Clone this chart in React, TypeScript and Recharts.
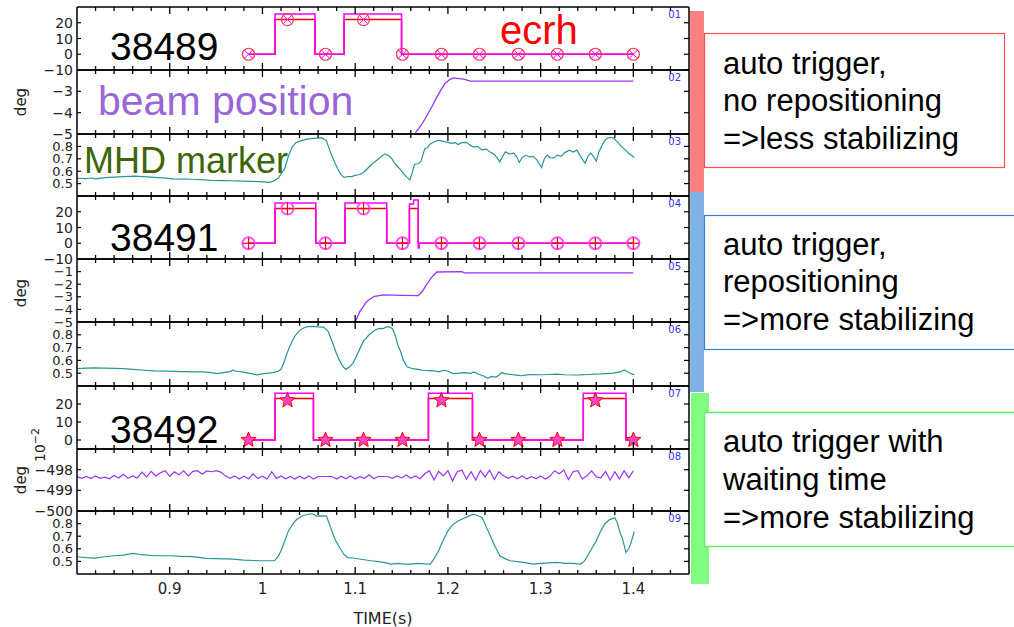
import React from 'react';
import { ComposedChart, Line, XAxis, YAxis } from 'recharts';

// time axis (s)
const T_DOMAIN: [number, number] = [0.8, 1.46];
const T_TICKS = Array.from({ length: 34 }, (_, i) => Math.round((0.8 + 0.02 * i) * 100) / 100);

// ecrh marker times (same for all shots)
const markerTimes = [0.985, 1.027, 1.068, 1.109, 1.151, 1.193, 1.234, 1.276, 1.318, 1.359, 1.4];

// shot 38489
const ecrh38489 = [[0.985, 0], [1.0136, 25.5], [1.0567, 0], [1.088, 25.5], [1.15, 0], [1.4, 0]];
const ecrhRef38489 = [[0.985, 0], [1.0136, 22], [1.0567, 0], [1.088, 22], [1.15, 0], [1.4, 0]];
const marks38489 = [0, 22, 0, 22, 0, 0, 0, 0, 0, 0, 0];
const beam38489 = [
  [1.165, -4.94], [1.171, -4.6], [1.177, -4.17], [1.183, -3.7], [1.188, -3.27], [1.193, -2.9],
  [1.197, -2.63], [1.202, -2.45], [1.206, -2.37], [1.212, -2.4], [1.217, -2.43], [1.224, -2.52], [1.4, -2.52],
];
const mhd38489 = [
  [0.8, 0.543], [0.81, 0.54], [0.815, 0.545], [0.82, 0.538], [0.83, 0.548], [0.84, 0.552], [0.85, 0.556],
  [0.862, 0.561], [0.872, 0.556], [0.883, 0.55], [0.893, 0.546], [0.904, 0.538], [0.915, 0.536], [0.926, 0.535],
  [0.937, 0.53], [0.947, 0.525], [0.958, 0.524], [0.968, 0.523], [0.979, 0.52], [0.99, 0.518], [1.0, 0.514],
  [1.007, 0.51], [1.012, 0.52], [1.017, 0.543], [1.021, 0.59], [1.024, 0.62], [1.028, 0.72], [1.032, 0.795],
  [1.036, 0.83], [1.041, 0.845], [1.048, 0.858], [1.054, 0.865], [1.06, 0.866], [1.064, 0.87], [1.069, 0.845],
  [1.072, 0.78], [1.075, 0.72], [1.078, 0.67], [1.081, 0.62], [1.085, 0.57], [1.088, 0.55], [1.092, 0.557],
  [1.096, 0.556], [1.1, 0.566], [1.105, 0.573], [1.109, 0.59], [1.113, 0.62], [1.117, 0.65], [1.122, 0.68],
  [1.127, 0.71], [1.132, 0.74], [1.136, 0.725], [1.139, 0.707], [1.142, 0.67], [1.145, 0.644], [1.149, 0.61],
  [1.152, 0.58], [1.156, 0.55], [1.159, 0.53], [1.162, 0.6], [1.164, 0.656], [1.168, 0.66], [1.171, 0.68],
  [1.175, 0.78], [1.178, 0.79], [1.181, 0.82], [1.185, 0.835], [1.19, 0.85], [1.195, 0.84], [1.2, 0.833],
  [1.204, 0.825], [1.208, 0.83], [1.211, 0.815], [1.215, 0.83], [1.22, 0.833], [1.224, 0.81], [1.228, 0.795],
  [1.232, 0.8], [1.237, 0.77], [1.241, 0.78], [1.245, 0.757], [1.249, 0.74], [1.253, 0.71], [1.256, 0.674],
  [1.259, 0.72], [1.262, 0.757], [1.266, 0.74], [1.271, 0.745], [1.274, 0.72], [1.277, 0.67], [1.28, 0.71],
  [1.284, 0.73], [1.288, 0.715], [1.292, 0.72], [1.296, 0.69], [1.301, 0.63], [1.304, 0.7], [1.307, 0.73],
  [1.31, 0.71], [1.314, 0.707], [1.318, 0.73], [1.322, 0.72], [1.326, 0.75], [1.331, 0.77], [1.335, 0.755],
  [1.339, 0.77], [1.343, 0.72], [1.348, 0.664], [1.351, 0.72], [1.354, 0.745], [1.357, 0.72], [1.36, 0.68],
  [1.363, 0.76], [1.367, 0.82], [1.37, 0.855], [1.373, 0.87], [1.376, 0.872], [1.379, 0.865], [1.383, 0.835],
  [1.386, 0.808], [1.39, 0.78], [1.395, 0.745], [1.401, 0.71],
];

// shot 38491
const ecrh38491 = [
  [0.985, 0], [1.0136, 25.5], [1.0575, 0], [1.089, 25.5], [1.134, 0], [1.1585, 25], [1.163, 27.5],
  [1.168, -3], [1.169, 0], [1.4, 0],
];
const ecrhRef38491 = [[0.985, 0], [1.0136, 22], [1.0575, 0], [1.089, 22], [1.134, 0], [1.1585, 22], [1.168, 0], [1.4, 0]];
const marks38491 = [0, 22, 0, 22, 0, 0, 0, 0, 0, 0, 0];
const beam38491 = [
  [1.1, -5], [1.105, -4.18], [1.1125, -3.37], [1.12, -2.98], [1.13, -2.84], [1.15, -2.88], [1.168, -2.9],
  [1.172, -2.6], [1.177, -2.04], [1.182, -1.5], [1.188, -1.03], [1.215, -1.0], [1.218, -1.1], [1.4, -1.1],
];
const mhd38491 = [
  [0.8, 0.536], [0.81, 0.54], [0.82, 0.542], [0.83, 0.54], [0.84, 0.538], [0.85, 0.535], [0.86, 0.53],
  [0.87, 0.525], [0.883, 0.518], [0.895, 0.516], [0.905, 0.515], [0.915, 0.512], [0.926, 0.51], [0.936, 0.51],
  [0.945, 0.505], [0.951, 0.497], [0.958, 0.505], [0.965, 0.512], [0.968, 0.523], [0.972, 0.515], [0.978, 0.51],
  [0.985, 0.5], [0.994, 0.487], [1.0, 0.495], [1.006, 0.5], [1.011, 0.505], [1.017, 0.515], [1.02, 0.53],
  [1.023, 0.58], [1.026, 0.646], [1.029, 0.7], [1.032, 0.75], [1.036, 0.8], [1.041, 0.84], [1.045, 0.855],
  [1.049, 0.864], [1.055, 0.866], [1.06, 0.862], [1.066, 0.86], [1.071, 0.826], [1.075, 0.75], [1.079, 0.67],
  [1.083, 0.6], [1.087, 0.55], [1.09, 0.53], [1.094, 0.55], [1.098, 0.582], [1.103, 0.66], [1.109, 0.75],
  [1.115, 0.8], [1.122, 0.84], [1.126, 0.85], [1.13, 0.848], [1.133, 0.86], [1.136, 0.864], [1.14, 0.85],
  [1.143, 0.8], [1.146, 0.72], [1.149, 0.67], [1.152, 0.6], [1.156, 0.55], [1.162, 0.535], [1.168, 0.53],
  [1.173, 0.523], [1.18, 0.52], [1.186, 0.518], [1.19, 0.51], [1.196, 0.523], [1.2, 0.515], [1.206, 0.497],
  [1.212, 0.5], [1.218, 0.505], [1.224, 0.498], [1.228, 0.51], [1.234, 0.49], [1.238, 0.48], [1.243, 0.46],
  [1.247, 0.475], [1.252, 0.47], [1.256, 0.49], [1.258, 0.505], [1.262, 0.495], [1.268, 0.49], [1.274, 0.485],
  [1.279, 0.48], [1.285, 0.487], [1.292, 0.49], [1.3, 0.488], [1.309, 0.49], [1.318, 0.492], [1.326, 0.488],
  [1.335, 0.486], [1.343, 0.487], [1.35, 0.49], [1.36, 0.492], [1.369, 0.497], [1.378, 0.5], [1.386, 0.51],
  [1.39, 0.526], [1.395, 0.505], [1.401, 0.487],
];

// shot 38492
const ecrh38492 = [[0.985, 0], [1.0136, 26], [1.055, 0], [1.179, 26], [1.2265, 0], [1.346, 26], [1.392, 0], [1.4, 0]];
const ecrhRef38492 = [[0.985, 0], [1.0136, 23], [1.055, 0], [1.179, 23], [1.2265, 0], [1.346, 23], [1.392, 0], [1.4, 0]];
const marks38492 = [0, 22, 0, 0, 0, 22, 0, 0, 0, 22, 0];
// beam position in 1e-2 deg, sampled every 5 ms from 0.8 s
const beam38492 = [
  -498.35, -498.42, -498.33, -498.43, -498.3, -498.42, -498.36, -498.44, -498.28, -498.4, -498.22, -498.42, -498.3, -498.4,
  -498.12, -498.35, -498.08, -498.3, -498.15, -498.05, -498.32, -498.1, -498.25, -498.06, -498.3, -498.08, -498.05, -498.22,
  -498.06, -498.1, -498.05, -498.12,
  -498.3, -498.42, -498.3, -498.45, -498.32, -498.44, -498.2, -498.43, -498.32, -498.45, -498.1, -498.42, -498.3, -498.44,
  -498.33, -498.45, -498.32, -498.44, -498.3, -498.45, -498.33,
  -498.33, -498.33, -498.33,
  -498.45, -498.32, -498.44, -498.3, -498.45, -498.34, -498.42, -498.25, -498.44, -498.33, -498.33, -498.33, -498.42,
  -498.3, -498.4, -498.26, -498.42, -498.3, -498.44, -498.2,
  -498.05, -498.5, -498.08, -498.3, -498.05, -498.55, -498.1, -498.02, -498.45, -498.1, -498.5, -498.05, -498.35, -498.02,
  -498.48, -498.1, -498.3,
  -498.42, -498.32, -498.44, -498.3, -498.45, -498.33, -498.44, -498.3, -498.45, -498.32,
  -498.05, -498.2, -498.02, -498.48, -498.1, -498.05, -498.45, -498.3, -498.06, -498.35, -498.4, -498.08, -498.5, -498.1,
  -498.45, -498.05, -498.4, -498.05,
];
const mhd38492 = [
  [0.8, 0.537], [0.81, 0.53], [0.819, 0.526], [0.828, 0.535], [0.84, 0.545], [0.85, 0.55], [0.86, 0.563],
  [0.87, 0.553], [0.883, 0.545], [0.9, 0.545], [0.913, 0.54], [0.925, 0.538], [0.939, 0.524], [0.95, 0.522],
  [0.96, 0.52], [0.968, 0.518], [0.98, 0.51], [0.99, 0.507], [0.998, 0.505], [1.005, 0.505], [1.013, 0.505],
  [1.017, 0.54], [1.02, 0.584], [1.024, 0.66], [1.028, 0.742], [1.032, 0.79], [1.037, 0.834], [1.043, 0.86],
  [1.049, 0.874], [1.054, 0.878], [1.058, 0.86], [1.064, 0.862], [1.069, 0.86], [1.073, 0.78], [1.076, 0.72],
  [1.079, 0.663], [1.084, 0.6], [1.088, 0.555], [1.092, 0.53], [1.1, 0.525], [1.108, 0.515], [1.117, 0.505],
  [1.125, 0.498], [1.132, 0.49], [1.139, 0.479], [1.146, 0.485], [1.153, 0.478], [1.16, 0.479], [1.168, 0.485],
  [1.175, 0.48], [1.181, 0.479], [1.185, 0.52], [1.19, 0.584], [1.195, 0.67], [1.2, 0.742], [1.205, 0.79],
  [1.211, 0.82], [1.218, 0.845], [1.224, 0.865], [1.228, 0.874], [1.233, 0.86], [1.237, 0.847], [1.241, 0.78],
  [1.245, 0.716], [1.25, 0.63], [1.256, 0.545], [1.262, 0.52], [1.267, 0.505], [1.275, 0.498], [1.283, 0.49],
  [1.292, 0.479], [1.3, 0.485], [1.308, 0.488], [1.318, 0.492], [1.326, 0.485], [1.335, 0.484], [1.343, 0.479],
  [1.347, 0.5], [1.35, 0.537], [1.355, 0.6], [1.36, 0.663], [1.364, 0.73], [1.369, 0.795], [1.374, 0.83],
  [1.38, 0.847], [1.383, 0.8], [1.386, 0.72], [1.388, 0.689], [1.392, 0.571], [1.395, 0.6], [1.397, 0.637],
  [1.401, 0.737],
];

const MAGENTA = '#ff00ff';
const RED = '#ff0000';
const PURPLE = '#9933ff';
const TEAL = '#2a9494';
const TICK_FONT = '"DejaVu Sans", sans-serif';
const TEXT_FONT = '"Liberation Sans", Arial, sans-serif';

const rows = (pairs: number[][]) => pairs.map(([t, v]) => ({ t, v }));
const markRows = (vals: number[]) => vals.map((v, i) => ({ t: markerTimes[i], v }));
const isMajor = (v: number) => Math.abs(v * 10 - Math.round(v * 10)) < 1e-6;
const minus = (v: number) => String(v).replace('-', '\u2212');

function CircleX({ cx, cy }: any) {
  const d = 4;
  return (
    <g>
      <circle cx={cx} cy={cy} r={6} fill="none" stroke="#ff3355" strokeWidth={1.2} />
      <line x1={cx - d} y1={cy - d} x2={cx + d} y2={cy + d} stroke={MAGENTA} strokeWidth={1} />
      <line x1={cx - d} y1={cy + d} x2={cx + d} y2={cy - d} stroke={MAGENTA} strokeWidth={1} />
    </g>
  );
}

function CirclePlus({ cx, cy }: any) {
  return (
    <g>
      <circle cx={cx} cy={cy} r={6} fill="none" stroke="#ff55ff" strokeWidth={2} />
      <line x1={cx - 6} y1={cy} x2={cx + 6} y2={cy} stroke={RED} strokeWidth={1.2} />
      <line x1={cx} y1={cy - 6} x2={cx} y2={cy + 6} stroke={RED} strokeWidth={1.2} />
    </g>
  );
}

function Star({ cx, cy }: any) {
  const pts: string[] = [];
  for (let k = 0; k < 10; k++) {
    const r = k % 2 === 0 ? 8 : 3.5;
    const a = -Math.PI / 2 + (k * Math.PI) / 5;
    pts.push(`${cx + r * Math.cos(a)},${cy + r * Math.sin(a)}`);
  }
  return <polygon points={pts.join(' ')} fill="#ff44cc" stroke={RED} strokeWidth={1} />;
}

interface PanelProps {
  top: number;
  bottom: number;
  domain: [number, number];
  ticks: number[];
  labelSize?: number;
  last?: boolean;
  children?: React.ReactNode;
}

function Panel({ top, bottom, domain, ticks, labelSize = 14, last, children }: PanelProps) {
  const pad = 12;
  const extra = last ? 28 : 0;
  const axisLine = { stroke: '#000', strokeWidth: 1.5 };

  const bottomTick = (p: any) => {
    const v = p.payload.value;
    if (v <= T_DOMAIN[0] || v >= T_DOMAIN[1]) return <g />;
    const len = isMajor(v) ? 7 : 4;
    return (
      <g>
        <line x1={p.x} x2={p.x} y1={p.y} y2={p.y - len} stroke="#000" strokeWidth={1.3} />
        {last && isMajor(v) && (
          <text x={p.x} y={p.y + 20} textAnchor="middle" fontSize={15} fontFamily={TICK_FONT} fill="#222">
            {String(v)}
          </text>
        )}
      </g>
    );
  };
  const topTick = (p: any) => {
    const v = p.payload.value;
    if (v <= T_DOMAIN[0] || v >= T_DOMAIN[1]) return <g />;
    const len = isMajor(v) ? 7 : 4;
    return <line x1={p.x} x2={p.x} y1={p.y} y2={p.y + len} stroke="#000" strokeWidth={1.3} />;
  };
  const leftTick = (p: any) => (
    <g>
      <line x1={p.x} x2={p.x + 4} y1={p.y} y2={p.y} stroke="#000" strokeWidth={1.2} />
      <text x={p.x - 4} y={p.y} dy="0.36em" textAnchor="end" fontSize={labelSize} fontFamily={TICK_FONT} fill="#222">
        {minus(p.payload.value)}
      </text>
    </g>
  );
  const rightTick = (p: any) => (
    <line x1={p.x} x2={p.x - 5} y1={p.y} y2={p.y} stroke="#000" strokeWidth={1.2} />
  );

  return (
    <div style={{ position: 'absolute', left: 0, top: top - pad }}>
      <ComposedChart width={700} height={bottom - top + 2 * pad + extra}
        margin={{ top: pad - 1, right: 10, bottom: pad - 1 + extra, left: 0 }}>
        <XAxis xAxisId="b" dataKey="t" type="number" domain={T_DOMAIN} ticks={T_TICKS} interval={0} height={1}
          tickSize={0} tickMargin={0} tickLine={false} axisLine={axisLine} tick={bottomTick} allowDataOverflow />
        <XAxis xAxisId="top" orientation="top" dataKey="t" type="number" domain={T_DOMAIN} ticks={T_TICKS} interval={0}
          height={1} tickSize={0} tickMargin={0} tickLine={false} axisLine={axisLine} tick={topTick} allowDataOverflow />
        <YAxis yAxisId="l" dataKey="v" type="number" domain={domain} ticks={ticks} interval={0} width={77}
          tickSize={0} tickMargin={0} tickLine={false} axisLine={axisLine} tick={leftTick} allowDataOverflow />
        <YAxis yAxisId="r" orientation="right" dataKey="v" type="number" domain={domain} ticks={ticks} interval={0}
          width={1} tickSize={0} tickMargin={0} tickLine={false} axisLine={axisLine} tick={rightTick} allowDataOverflow />
        {children}
      </ComposedChart>
    </div>
  );
}

const lineProps = { xAxisId: 'b', yAxisId: 'l', dataKey: 'v', isAnimationActive: false, dot: false, activeDot: false } as const;

function markerLine(data: { t: number; v: number }[], Shape: any) {
  return (
    <Line {...lineProps} data={data} stroke="none"
      dot={(p: any) => <Shape key={p.index} cx={p.cx} cy={p.cy} />} />
  );
}

const PANEL_TOPS = [7, 70, 134, 196, 259, 322, 386, 449, 511, 574];
const MHD_TICKS = [0.5, 0.6, 0.7, 0.8];

export default function App() {
  const noiseRows = beam38492.map((v, i) => ({ t: Math.round((0.8 + 0.005 * i) * 1000) / 1000, v }));
  const pt = PANEL_TOPS;
  return (
    <div style={{ position: 'relative', width: 1014, height: 627, background: '#fff', overflow: 'hidden' }}>
      <style>{'body{margin:0}'}</style>

      {/* 38489 */}
      <Panel top={pt[0]} bottom={pt[1]} domain={[-10, 30]} ticks={[-10, 0, 10, 20]}>
        <Line {...lineProps} data={rows(ecrhRef38489)} type="stepAfter" stroke={RED} strokeWidth={1.5} />
        <Line {...lineProps} data={rows(ecrh38489)} type="stepAfter" stroke={MAGENTA} strokeWidth={1.5} />
        {markerLine(markRows(marks38489), CircleX)}
      </Panel>
      <Panel top={pt[1]} bottom={pt[2]} domain={[-5, -2]} ticks={[-5, -4, -3]}>
        <Line {...lineProps} data={rows(beam38489)} stroke={PURPLE} strokeWidth={1.3} />
      </Panel>
      <Panel top={pt[2]} bottom={pt[3]} domain={[0.4, 0.9]} ticks={MHD_TICKS} labelSize={13}>
        <Line {...lineProps} data={rows(mhd38489)} stroke={TEAL} strokeWidth={1.2} />
      </Panel>

      {/* 38491 */}
      <Panel top={pt[3]} bottom={pt[4]} domain={[-10, 30]} ticks={[-10, 0, 10, 20]}>
        <Line {...lineProps} data={rows(ecrhRef38491)} type="stepAfter" stroke={RED} strokeWidth={1.5} />
        <Line {...lineProps} data={rows(ecrh38491)} type="stepAfter" stroke={MAGENTA} strokeWidth={1.5} />
        {markerLine(markRows(marks38491), CirclePlus)}
      </Panel>
      <Panel top={pt[4]} bottom={pt[5]} domain={[-5, 0]} ticks={[-5, -4, -3, -2, -1]} labelSize={13}>
        <Line {...lineProps} data={rows(beam38491)} stroke={PURPLE} strokeWidth={1.3} />
      </Panel>
      <Panel top={pt[5]} bottom={pt[6]} domain={[0.4, 0.9]} ticks={MHD_TICKS} labelSize={13}>
        <Line {...lineProps} data={rows(mhd38491)} stroke={TEAL} strokeWidth={1.2} />
      </Panel>

      {/* 38492 */}
      <Panel top={pt[6]} bottom={pt[7]} domain={[-5, 30]} ticks={[0, 10, 20]}>
        <Line {...lineProps} data={rows(ecrhRef38492)} type="stepAfter" stroke={RED} strokeWidth={1.5} />
        <Line {...lineProps} data={rows(ecrh38492)} type="stepAfter" stroke={MAGENTA} strokeWidth={1.5} />
        {markerLine(markRows(marks38492), Star)}
      </Panel>
      <Panel top={pt[7]} bottom={pt[8]} domain={[-500, -497]} ticks={[-500, -499, -498]}>
        <Line {...lineProps} data={noiseRows} stroke={PURPLE} strokeWidth={1.2} />
      </Panel>
      <Panel top={pt[8]} bottom={pt[9]} domain={[0.4, 0.9]} ticks={MHD_TICKS} labelSize={13} last>
        <Line {...lineProps} data={rows(mhd38492)} stroke={TEAL} strokeWidth={1.2} />
      </Panel>

      <svg width={1014} height={627} style={{ position: 'absolute', left: 0, top: 0, pointerEvents: 'none' }}>
        {/* panel numbers */}
        {['01', '02', '03', '04', '05', '06', '07', '08', '09'].map((s, i) => (
          <text key={s} x={681} y={pt[i] + 11} textAnchor="end" fontSize={10} fontFamily={TICK_FONT} fill="#3333ff">{s}</text>
        ))}

        {/* axis titles */}
        <text transform="translate(26,102) rotate(-90)" textAnchor="middle" fontSize={15} fontFamily={TICK_FONT} fill="#222">deg</text>
        <text transform="translate(26,293) rotate(-90)" textAnchor="middle" fontSize={15} fontFamily={TICK_FONT} fill="#222">deg</text>
        <text transform="translate(26,480) rotate(-90)" textAnchor="middle" fontSize={15} fontFamily={TICK_FONT} fill="#222">deg</text>
        <text transform="translate(45,445) rotate(-90)" textAnchor="middle" fontSize={14} fontFamily={TICK_FONT} fill="#222">
          10<tspan dy={-6} fontSize={11}>{'\u22122'}</tspan>
        </text>
        <text x={383} y={624} textAnchor="middle" fontSize={16} fontFamily={TICK_FONT} fill="#222">TIME(s)</text>

        {/* annotations */}
        <text x={110} y={60} fontSize={39} fontFamily={TEXT_FONT} fill="#000">38489</text>
        <text x={110} y={251} fontSize={39} fontFamily={TEXT_FONT} fill="#000">38491</text>
        <text x={110} y={443} fontSize={39} fontFamily={TEXT_FONT} fill="#000">38492</text>
        <text x={500} y={44} fontSize={40} fontFamily={TEXT_FONT} fill="#ff0000">ecrh</text>
        <text x={98} y={115} fontSize={41} fontFamily={TEXT_FONT} fill="#9966d6">beam position</text>
        <text x={84} y={173} fontSize={36} fontFamily={TEXT_FONT} fill="#3d6606">MHD marker</text>

        {/* colour bars */}
        <rect x={690} y={11} width={14} height={181} fill="#ff8080" />
        <rect x={690} y={192} width={14} height={200} fill="#80b2e4" />
        <rect x={691} y={393} width={18} height={191} fill="#80ff80" />

        {/* boxes */}
        <rect x={704.5} y={33.5} width={300} height={134} fill="#fff" stroke="#ff4d4d" strokeWidth={1.2} />
        <rect x={704.5} y={215.5} width={330} height={134} fill="#fff" stroke="#3a80d0" strokeWidth={1.2} />
        <rect x={704.5} y={412.5} width={330} height={134} fill="#fff" stroke="#66ee66" strokeWidth={1.5} />

        <g fontSize={31} fontFamily={TEXT_FONT} fill="#000">
          <text x={723} y={74}>auto trigger,</text>
          <text x={723} y={111}>no repositioning</text>
          <text x={723} y={149}>=&gt;less stabilizing</text>
          <text x={723} y={255}>auto trigger,</text>
          <text x={723} y={292}>repositioning</text>
          <text x={723} y={330}>=&gt;more stabilizing</text>
          <text x={723} y={452}>auto trigger with</text>
          <text x={723} y={490}>waiting time</text>
          <text x={723} y={528}>=&gt;more stabilizing</text>
        </g>
      </svg>
    </div>
  );
}
